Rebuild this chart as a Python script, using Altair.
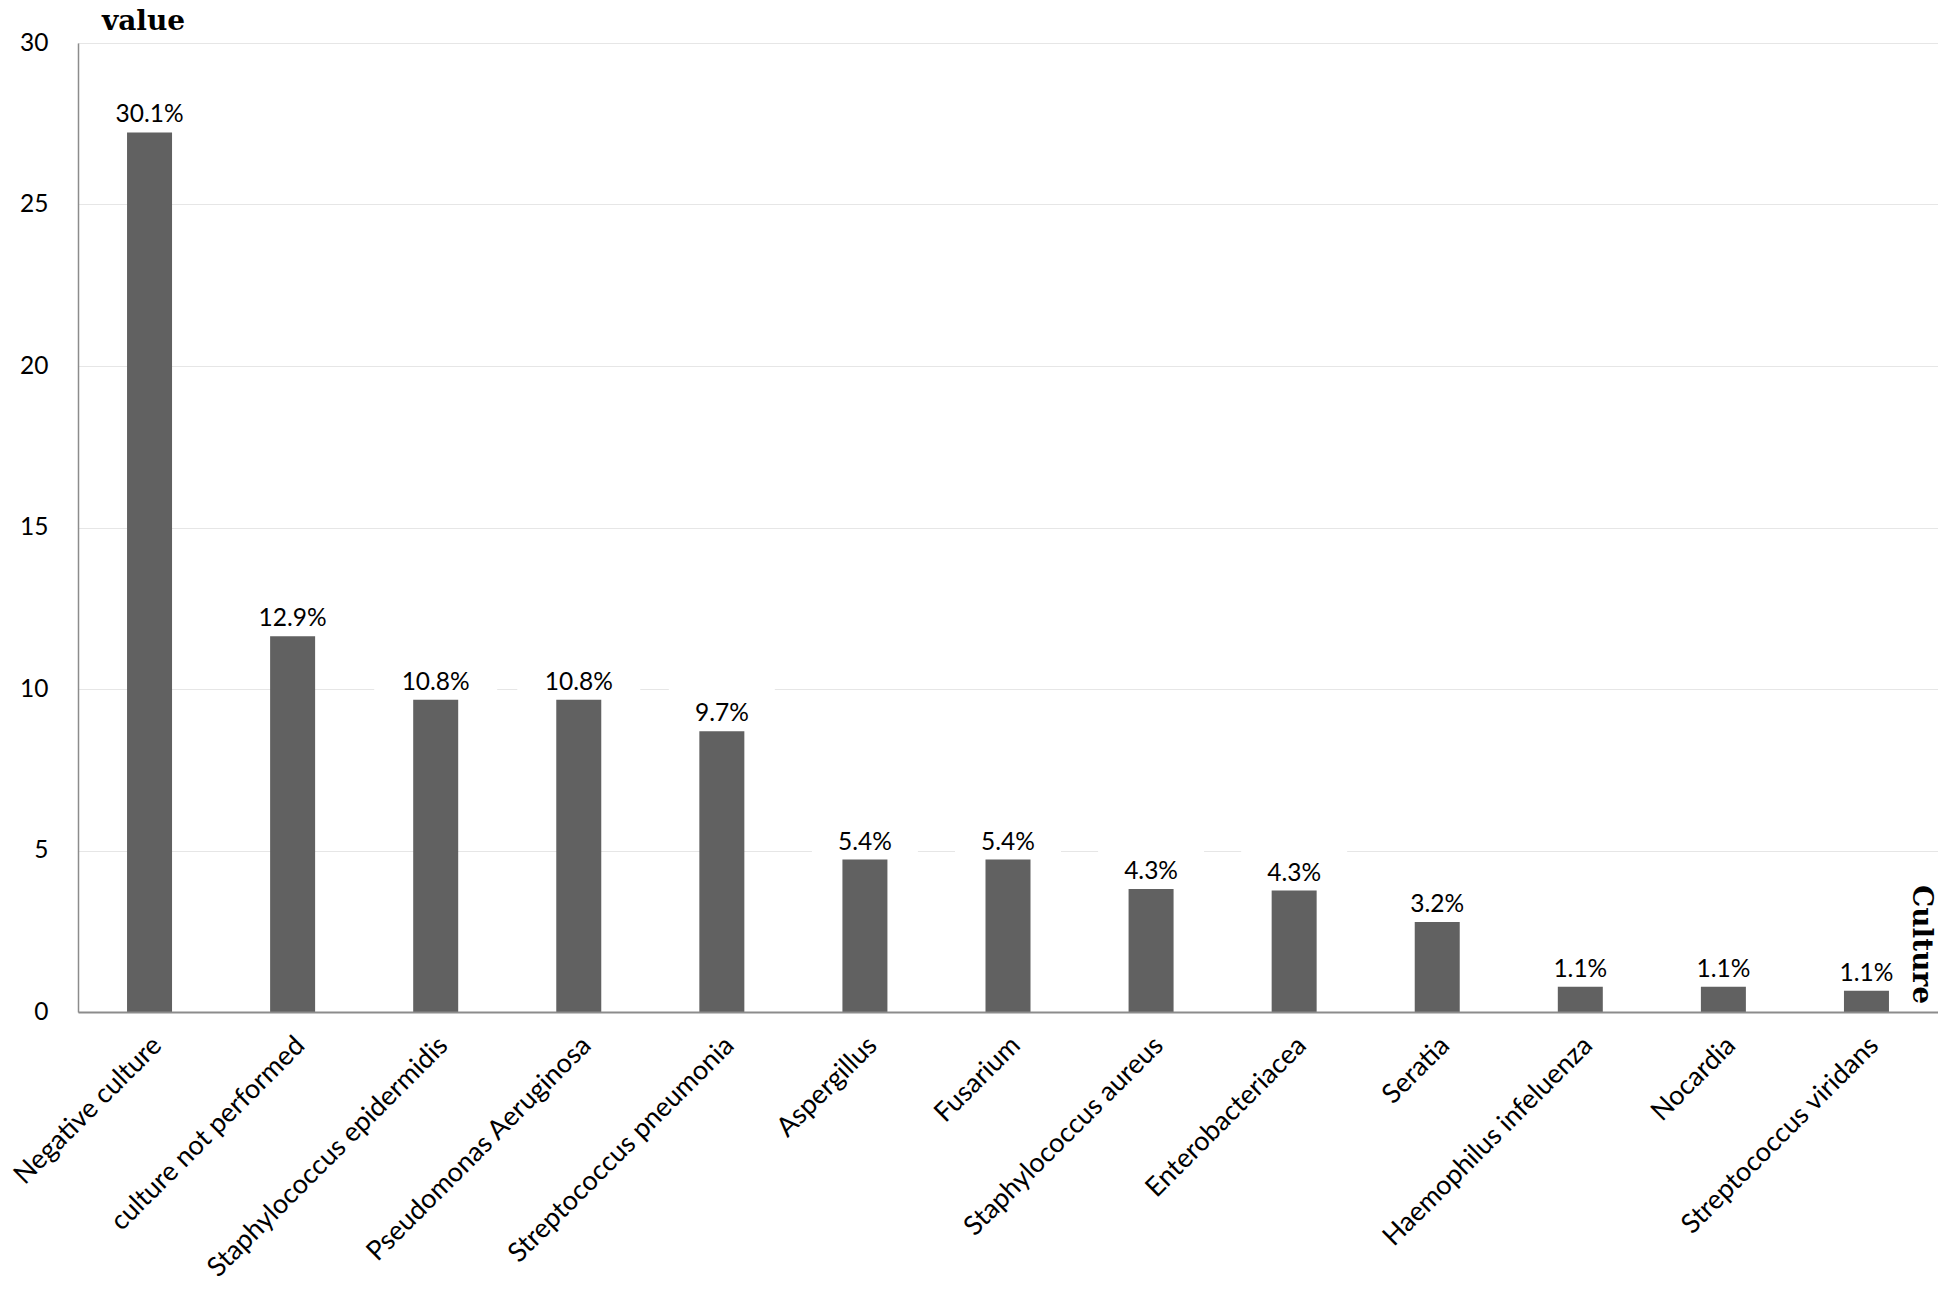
import altair as alt
import pandas as pd

cultures = [
    "Negative culture", "culture not performed", "Staphylococcus epidermidis",
    "Pseudomonas Aeruginosa", "Streptococcus pneumonia", "Aspergillus", "Fusarium",
    "Staphylococcus aureus", "Enterobacteriacea", "Seratia", "Haemophilus infeluenza",
    "Nocardia", "Streptococcus viridans",
]
values = [27.23, 11.63, 9.67, 9.67, 8.69, 4.72, 4.72, 3.81, 3.76, 2.79, 0.78, 0.78, 0.66]
labels = ["30.1%", "12.9%", "10.8%", "10.8%", "9.7%", "5.4%", "5.4%", "4.3%", "4.3%",
          "3.2%", "1.1%", "1.1%", "1.1%"]
y_ticks = [0, 5, 10, 15, 20, 25, 30]

df = pd.DataFrame({"culture": cultures, "value": values, "label": labels})

FONT = "Lato"
TITLE_FONT = "DejaVu Serif"

x_enc = alt.X(
    "culture:N", sort=cultures,
    scale=alt.Scale(paddingInner=0, paddingOuter=0),
    axis=alt.Axis(
        title="Culture", titleAngle=90, titleX=1842, titleY=-68,
        titleAlign="center", titleBaseline="middle",
        titleFont=TITLE_FONT, titleFontSize=28, titleFontWeight="bold", titleColor="black",
        labelAngle=-45, labelAlign="right", labelBaseline="middle", labelPadding=29,
        labelOffset=8,
        labelFont=FONT, labelFontSize=27, labelColor="black", labelLimit=0,
        ticks=False, tickSize=0, domainColor="#8c8c8c", domainWidth=2, grid=False,
        zindex=1,
    ),
)
y_enc = alt.Y(
    "value:Q", scale=alt.Scale(domain=[0, 30], nice=False),
    axis=alt.Axis(
        title="value", titleAngle=0, titleX=65, titleY=-14,
        titleAlign="center", titleBaseline="alphabetic",
        titleFont=TITLE_FONT, titleFontSize=28, titleFontWeight="bold", titleColor="black",
        values=y_ticks, labelFont=FONT, labelFontSize=24.5, labelColor="black",
        labelPadding=30, ticks=False, tickSize=0,
        domainColor="#8c8c8c", domainWidth=1.5,
        grid=True, gridColor="#e6e6e6", gridWidth=1,
    ),
)

base = alt.Chart(df)

box_wide = "M-6.15,-5L6.15,-5L6.15,-0.3L-6.15,-0.3Z"
box_narrow = "M-5.3,-5L5.3,-5L5.3,-0.3L-5.3,-0.3Z"

boxes = base.mark_point(filled=True, opacity=1, strokeWidth=0).encode(
    x=x_enc, y=y_enc,
    shape=alt.condition("length(datum.label) > 4", alt.value(box_wide), alt.value(box_narrow)),
    size=alt.value(400),
    color=alt.value("white"),
)

bars = base.mark_bar(size=45, color="#616161").encode(x=x_enc, y=y_enc)

texts = base.mark_text(
    font=FONT, fontSize=24.5, color="black", dy=-10, baseline="alphabetic", align="center"
).encode(x=x_enc, y=y_enc, text="label:N")

chart = (
    alt.layer(boxes, bars, texts)
    .properties(
        width=1860, height=969,
        autosize=alt.AutoSizeParams(type="none"),
        padding={"left": 70, "top": 35, "right": 0, "bottom": 274},
    )
    .configure_view(stroke=None)
    .configure(background="white")
)

chart.save("out.html", embed_options={"renderer": "svg", "actions": False})
